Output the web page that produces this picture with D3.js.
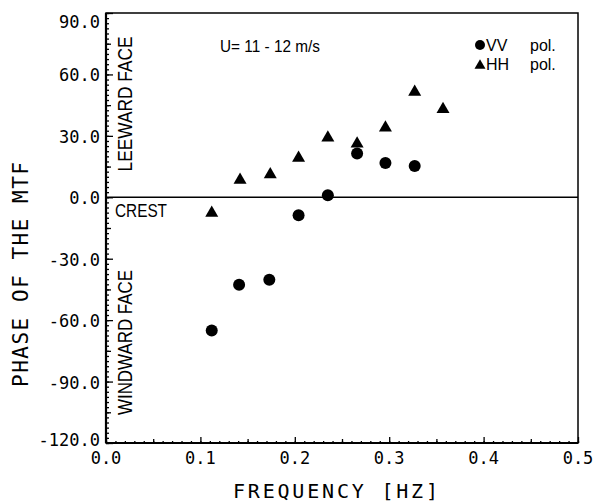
<!DOCTYPE html>
<html>
<head>
<meta charset="utf-8">
<script src="https://cdn.jsdelivr.net/npm/d3@7"></script>
<style>
body { margin: 0; background: #fff; }
text { fill: #000; }
</style>
</head>
<body>
<svg id="chart" width="606" height="503"></svg>
<script>
// values
const freqVV = [0.112, 0.141, 0.173, 0.204, 0.235, 0.266, 0.296, 0.327]
const phaseVV = [-65.1, -42.7, -40.3, -8.8, 1.0, 21.4, 16.8, 15.3]
const freqHH = [0.112, 0.142, 0.174, 0.204, 0.235, 0.266, 0.296, 0.327, 0.357]
const phaseHH = [-6.7, 9.4, 12.1, 20.1, 30.0, 27.1, 34.9, 52.3, 43.9]
const yTicks = [-120, -90, -60, -30, 0, 30, 60, 90]
const xTicks = [0, 0.1, 0.2, 0.3, 0.4, 0.5]
const legendLabels = ['VV', 'HH']

const margin = {top: 13, right: 28, bottom: 60, left: 106}
const width = 606 - margin.left - margin.right
const height = 503 - margin.top - margin.bottom

const svg = d3.select('#chart')
const g = svg.append('g')
    .attr('transform', 'translate(' + margin.left + ',' + margin.top + ')')

const x = d3.scaleLinear().domain([0, 0.5]).range([0, width])
const y = d3.scaleLinear().domain([-120, 90]).range([height, 0])

const mono = "'DejaVu Sans Mono', monospace"
const sans = "'Liberation Sans', Arial, sans-serif"

// y axis minor / medium / major ticks (inward)
g.append('g')
    .call(d3.axisRight(y).tickValues(d3.range(-120, 90.1, 2.5)).tickSize(3).tickFormat(''))
g.append('g')
    .call(d3.axisRight(y).tickValues(d3.range(-105, 90, 30)).tickSize(5).tickFormat(''))
g.append('g')
    .call(d3.axisRight(y).tickValues(yTicks).tickSize(7).tickFormat(''))

// x axis ticks (inward)
g.append('g').attr('transform', 'translate(0,' + height + ')')
    .call(d3.axisTop(x).tickValues(d3.range(0, 0.5001, 0.01)).tickSize(2).tickFormat(''))
g.append('g').attr('transform', 'translate(0,' + height + ')')
    .call(d3.axisTop(x).tickValues(d3.range(0.05, 0.5, 0.1)).tickSize(4).tickFormat(''))
g.append('g').attr('transform', 'translate(0,' + height + ')')
    .call(d3.axisTop(x).tickValues(xTicks).tickSize(6).tickFormat(''))

g.selectAll('.domain').remove()
g.selectAll('.tick line').attr('stroke', '#000').attr('stroke-width', 1.3)

// frame
g.append('rect')
    .attr('width', width).attr('height', height)
    .attr('fill', 'none').attr('stroke', '#000').attr('stroke-width', 1.5)
g.append('line')
    .attr('x1', 0).attr('x2', 0).attr('y1', 0).attr('y2', height)
    .attr('stroke', '#000').attr('stroke-width', 2.2)
g.append('line')
    .attr('x1', 0).attr('x2', width).attr('y1', height).attr('y2', height)
    .attr('stroke', '#000').attr('stroke-width', 2)

// zero line
g.append('line')
    .attr('x1', 0).attr('x2', width).attr('y1', y(0)).attr('y2', y(0))
    .attr('stroke', '#000').attr('stroke-width', 1.5)

// tick labels
g.selectAll('.ylab').data(yTicks).enter().append('text')
    .attr('x', -6)
    .attr('y', d => y(d) + (d === 90 ? 9 : d === -120 ? -3 : 1))
    .attr('dy', '0.35em')
    .attr('text-anchor', 'end')
    .style('font-family', mono).style('font-size', '17px')
    .text(d => d.toFixed(1))

g.selectAll('.xlab').data(xTicks).enter().append('text')
    .attr('x', d => x(d))
    .attr('y', height + 21)
    .attr('text-anchor', 'middle')
    .style('font-family', mono).style('font-size', '17px')
    .text(d => d.toFixed(1))

// axis titles
svg.append('text')
    .attr('x', 335.5).attr('y', 498)
    .attr('text-anchor', 'middle')
    .attr('textLength', 205).attr('lengthAdjust', 'spacing')
    .style('font-family', mono).style('font-size', '20px')
    .text('FREQUENCY [HZ]')

svg.append('text')
    .attr('transform', 'translate(28,274.5) rotate(-90)')
    .attr('text-anchor', 'middle')
    .attr('textLength', 225).attr('lengthAdjust', 'spacing')
    .style('font-family', mono).style('font-size', '21px')
    .text('PHASE OF THE MTF')

// region labels
g.append('text')
    .attr('transform', 'translate(' + 26 + ',' + 91 + ') rotate(-90)')
    .attr('text-anchor', 'middle')
    .attr('textLength', 135).attr('lengthAdjust', 'spacingAndGlyphs')
    .style('font-family', sans).style('font-size', '20px')
    .text('LEEWARD FACE')

g.append('text')
    .attr('transform', 'translate(' + 26 + ',' + 329.5 + ') rotate(-90)')
    .attr('text-anchor', 'middle')
    .attr('textLength', 145).attr('lengthAdjust', 'spacingAndGlyphs')
    .style('font-family', sans).style('font-size', '20px')
    .text('WINDWARD FACE')

g.append('text')
    .attr('x', 9).attr('y', y(0) + 20)
    .attr('textLength', 52).attr('lengthAdjust', 'spacingAndGlyphs')
    .style('font-family', sans).style('font-size', '19px')
    .text('CREST')

g.append('text')
    .attr('x', 114).attr('y', 39)
    .attr('textLength', 100).attr('lengthAdjust', 'spacingAndGlyphs')
    .style('font-family', sans).style('font-size', '16.5px')
    .text('U= 11 - 12 m/s')

// data points
const triSide = 13
const tri = d3.symbol(d3.symbolTriangle, Math.sqrt(3) / 4 * triSide * triSide)
const triShift = triSide * Math.sqrt(3) / 2 / 6

g.selectAll('.vv').data(freqVV).enter().append('circle')
    .attr('cx', d => x(d))
    .attr('cy', (d, i) => y(phaseVV[i]))
    .attr('r', 6)
    .attr('fill', '#000')

g.selectAll('.hh').data(freqHH).enter().append('path')
    .attr('d', tri)
    .attr('transform', (d, i) => 'translate(' + x(d) + ',' + (y(phaseHH[i]) + triShift) + ')')
    .attr('fill', '#000')

// legend
const legend = svg.append('g').attr('transform', 'translate(480,45)')
legend.append('circle').attr('cx', 0).attr('cy', 0).attr('r', 5).attr('fill', '#000')
const triSmall = d3.symbol(d3.symbolTriangle, Math.sqrt(3) / 4 * 11 * 11)
legend.append('path').attr('d', triSmall)
    .attr('transform', 'translate(0,' + (19 + 11 * Math.sqrt(3) / 12) + ')')
    .attr('fill', '#000')
legendLabels.forEach((lab, i) => {
    legend.append('text')
        .attr('x', 6).attr('y', i * 19 + 6)
        .style('font-family', sans).style('font-size', '16px')
        .text(lab)
    legend.append('text')
        .attr('x', 50).attr('y', i * 19 + 6)
        .style('font-family', sans).style('font-size', '16px')
        .text('pol.')
})
</script>
</body>
</html>
